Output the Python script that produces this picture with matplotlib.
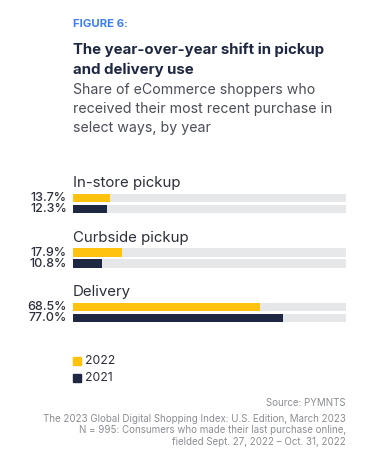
import matplotlib
matplotlib.use('Agg')
import matplotlib.pyplot as plt
from matplotlib.patches import Rectangle

plt.rcParams['font.family'] = ['Inter', 'DejaVu Sans']

# Data
categories = ['In-store pickup', 'Curbside pickup', 'Delivery']
years = ['2022', '2021']
values_2022 = [13.7, 17.9, 68.5]
values_2021 = [12.3, 10.8, 77.0]

yellow = '#FFC20E'
navy = '#1E2843'
track = '#E6E7E9'
text_dark = '#2B2F3A'

fig = plt.figure(figsize=(3.72, 4.63), dpi=100)
W, H = 372, 463

# Header
fig.text(73 / W, 1 - 24 / H, 'FIGURE 6:', color='#3D7DF6', fontsize=8.2,
         fontweight='bold', va='center', ha='left')
fig.text(73 / W, 1 - 50 / H, 'The year-over-year shift in pickup', color='#1E2843',
         fontsize=10.8, fontweight='bold', va='center', ha='left')
fig.text(73 / W, 1 - 70 / H, 'and delivery use', color='#1E2843',
         fontsize=10.8, fontweight='bold', va='center', ha='left')
for i, line in enumerate(['Share of eCommerce shoppers who',
                          'received their most recent purchase in',
                          'select ways, by year']):
    fig.text(73 / W, 1 - (90 + 19 * i) / H, line, color='#4A4E58',
             fontsize=10.2, va='center', ha='left')

# Bars
ax = fig.add_axes([73 / W, 1 - 329 / H, (346 - 73) / W, 158 / H])
bar_h = 0.156
off = 0.2
for i, cat in enumerate(categories):
    for j, (vals, col) in enumerate([(values_2022, yellow), (values_2021, navy)]):
        y = i + j * off
        ax.barh(y, 100, height=bar_h, color=track, zorder=1)
        ax.barh(y, vals[i], height=bar_h, color=col, zorder=2)
        ax.text(-2.2, y, f'{vals[i]:.1f}%', ha='right', va='center',
                fontsize=9.0, fontweight='medium', color=text_dark, clip_on=False)
    ax.text(0, i - 0.275, cat, ha='left', va='center', fontsize=10.8,
            color=text_dark)
ax.set_xlim(0, 100)
ax.set_ylim(2.4, -0.5)
ax.axis('off')

# Legend
for k, (yr, col) in enumerate(zip(years, [yellow, navy])):
    yc = 361 + 17 * k
    fig.patches.append(Rectangle((73 / W, 1 - (yc + 4) / H), 8 / W, 8 / H,
                                 transform=fig.transFigure, color=col))
    fig.text(85 / W, 1 - yc / H, yr, fontsize=8.8, color=text_dark,
             va='center', ha='left')

# Source
src = ['Source: PYMNTS',
       'The 2023 Global Digital Shopping Index: U.S. Edition, March 2023',
       'N = 995: Consumers who made their last purchase online,',
       'fielded Sept. 27, 2022 \u2013 Oct. 31, 2022']
for k, (line, yy) in enumerate(zip(src, [403, 419, 430, 442])):
    fig.text(346 / W, 1 - yy / H, line, fontsize=7.0, color='#8A8D93',
             va='center', ha='right')

fig.savefig('out.png', dpi=100, facecolor='white')
